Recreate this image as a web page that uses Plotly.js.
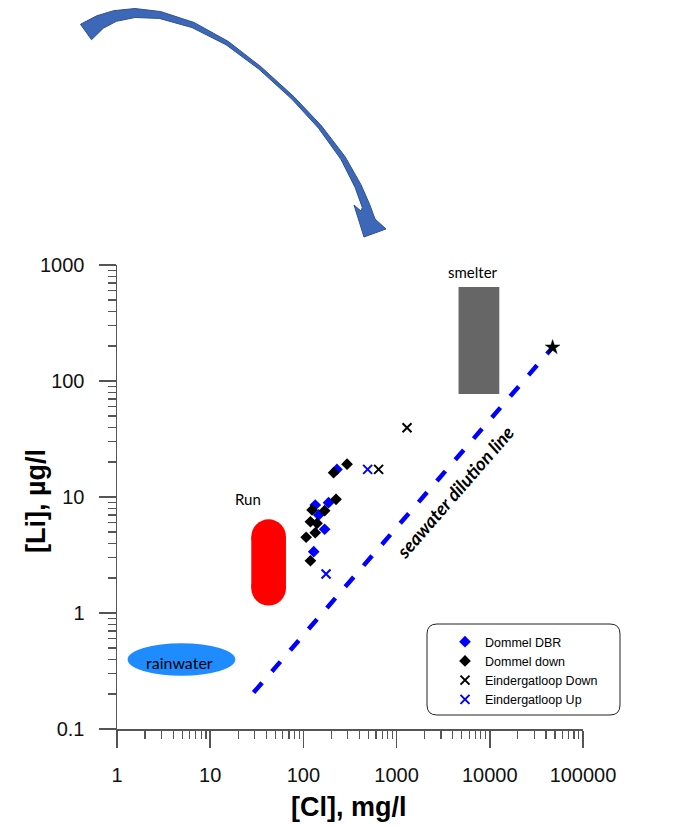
<!DOCTYPE html>
<html><head><meta charset="utf-8">
<script src="https://cdn.plot.ly/plotly-3.0.1.min.js"></script>
<style>html,body{margin:0;padding:0;background:#fff;}#chart{width:674px;height:827px;}</style>
</head><body><div id="chart"></div>
<script>
// ---- data (Cl in mg/l, Li in µg/l) ----
const dbrCl = [229, 186, 134, 146, 169, 129];
const dbrLi = [17.3, 8.93, 8.53, 7.0, 5.27, 3.38];
const downCl = [294, 211, 224, 124, 169, 119, 140, 134, 107, 119];
const downLi = [19.2, 16.2, 9.55, 7.73, 7.62, 6.12, 5.93, 4.92, 4.50, 2.82];
const eDownCl = [641, 1294];
const eDownLi = [17.3, 39.6];
const eUpCl = [489, 175];
const eUpLi = [17.3, 2.17];
const seawaterCl = [47200];
const seawaterLi = [195];
const dilutionCl = [29.2, 47200];
const dilutionLi = [0.206, 195];
const smelterCl = [4620, 12650];
const smelterLi = [77.3, 646];
const runCl = [27.6, 65];
const runLi = [1.16, 6.42];
const rainCl = [1.30, 18.6];
const rainLi = [0.288, 0.548];
const xTickVals = [1, 10, 100, 1000, 10000, 100000];
const xTickText = ['1', '10', '100', '1000', '10000', '100000'];
const yTickVals = [0.1, 1, 10, 100, 1000];
const yTickText = ['0.1', '1', '10', '100', '1000'];
const seriesNames = ['Dommel DBR', 'Dommel down', 'Eindergatloop Down', 'Eindergatloop Up'];

function minorVals(lo, hi) {
  const out = [];
  for (let e = lo; e < hi; e++) for (let m = 2; m <= 9; m++) out.push(m * Math.pow(10, e));
  return out;
}

// ---- geometry helpers for decorations (pixel -> paper) ----
const L = 117, T = 265, W = 466, H = 464;
const px = x => (x - L) / W;
const py = y => (T + H - y) / H;

// curved arrow (decoration)
const center = [[86,32],[100,22],[115,16],[135,13],[160,15],[193,25],[227,43],[260,68],[293,98],[320,127],[343,158],[358,186],[366,206]];
const thick  = [19,14,11,9,7,5.5,4,3.2,3.2,3.8,5,6.5,8];
const outer = [], inner = [];
for (let i = 0; i < center.length; i++) {
  const a = center[Math.max(0, i - 1)], b = center[Math.min(center.length - 1, i + 1)];
  let dx = b[0] - a[0], dy = b[1] - a[1];
  const len = Math.hypot(dx, dy); dx /= len; dy /= len;
  const nx = dy, ny = -dx, h = thick[i] / 2;
  outer.push([center[i][0] + nx * h, center[i][1] + ny * h]);
  inner.push([center[i][0] - nx * h, center[i][1] - ny * h]);
}
const headPts = [[375,219],[386,229],[364,237],[354,205],[361,211]];
const arrowPts = outer.concat(headPts, inner.slice().reverse());
const arrowPath = 'M' + arrowPts.map(p => px(p[0]).toFixed(5) + ',' + py(p[1]).toFixed(5)).join(' L') + ' Z';

// legend box (rounded)
function roundRect(x0, y0, x1, y1, r) {
  const P = (x, y) => px(x).toFixed(5) + ',' + py(y).toFixed(5);
  return 'M' + P(x0 + r, y0) + ' L' + P(x1 - r, y0) + ' Q' + P(x1, y0) + ' ' + P(x1, y0 + r) +
    ' L' + P(x1, y1 - r) + ' Q' + P(x1, y1) + ' ' + P(x1 - r, y1) +
    ' L' + P(x0 + r, y1) + ' Q' + P(x0, y1) + ' ' + P(x0, y1 - r) +
    ' L' + P(x0, y0 + r) + ' Q' + P(x0, y0) + ' ' + P(x0 + r, y0) + ' Z';
}

// rounded "pill" for the Run region: caps are half-circles of the pill width (in pixels)
const capPx = 17.3, decadePx = 116;
const capFactor = Math.pow(10, capPx / decadePx);
const runTopCap = [runLi[1] / capFactor / capFactor, runLi[1]];
const runBotCap = [runLi[0], runLi[0] * capFactor * capFactor];
const runBody = [runLi[0] * capFactor, runLi[1] / capFactor];

const BLUE = '#0000FF';
const traces = [
  { x: dilutionCl, y: dilutionLi, mode: 'lines', showlegend: false, hoverinfo: 'skip',
    line: { color: BLUE, width: 4.5, dash: '13px,15px' } },
  { x: dbrCl, y: dbrLi, mode: 'markers', name: seriesNames[0],
    marker: { symbol: 'diamond', size: 9, color: BLUE, line: { width: 0 } } },
  { x: downCl, y: downLi, mode: 'markers', name: seriesNames[1],
    marker: { symbol: 'diamond', size: 9, color: '#000', line: { width: 0 } } },
  { x: eDownCl, y: eDownLi, mode: 'markers', name: seriesNames[2],
    marker: { symbol: 'x-thin-open', size: 9, color: '#000', line: { width: 2, color: '#000' } } },
  { x: eUpCl, y: eUpLi, mode: 'markers', name: seriesNames[3],
    marker: { symbol: 'x-thin-open', size: 9, color: BLUE, line: { width: 2, color: BLUE } } },
  { x: seawaterCl, y: seawaterLi, mode: 'markers', showlegend: false,
    marker: { symbol: 'star', size: 11, color: '#000', line: { width: 0.5, color: '#000' } } }
];

const shapes = [
  { type: 'path', xref: 'paper', yref: 'paper', path: arrowPath, fillcolor: '#3d68b8', line: { color: '#2F528F', width: 1 }, layer: 'above' },
  { type: 'rect', xref: 'x', yref: 'y', x0: smelterCl[0], x1: smelterCl[1], y0: smelterLi[0], y1: smelterLi[1], fillcolor: '#666666', line: { width: 0 }, layer: 'below' },
  { type: 'rect', xref: 'x', yref: 'y', x0: runCl[0], x1: runCl[1], y0: runBody[0], y1: runBody[1], fillcolor: '#FF0000', line: { width: 0 }, layer: 'below' },
  { type: 'circle', xref: 'x', yref: 'y', x0: runCl[0], x1: runCl[1], y0: runTopCap[0], y1: runTopCap[1], fillcolor: '#FF0000', line: { width: 0 }, layer: 'below' },
  { type: 'circle', xref: 'x', yref: 'y', x0: runCl[0], x1: runCl[1], y0: runBotCap[0], y1: runBotCap[1], fillcolor: '#FF0000', line: { width: 0 }, layer: 'below' },
  { type: 'circle', xref: 'x', yref: 'y', x0: rainCl[0], x1: rainCl[1], y0: rainLi[0], y1: rainLi[1], fillcolor: '#1E8CFF', line: { width: 0 }, layer: 'below' },
  { type: 'path', xref: 'paper', yref: 'paper', path: roundRect(427, 624, 620, 715, 10), line: { color: '#222', width: 1 }, fillcolor: 'rgba(0,0,0,0)', layer: 'below' }
];

const calib = 'Lato, "Noto Sans", sans-serif';
const arial = '"Liberation Sans", Arial, sans-serif';
function label(text, x, y, size, family, extra) {
  return Object.assign({ text: text, x: px(x), y: py(y), xref: 'paper', yref: 'paper', showarrow: false,
    xanchor: 'center', yanchor: 'middle', font: { family: family, size: size, color: '#000' } }, extra || {});
}
const annotations = [
  label('smelter', 473, 272, 15, calib),
  label('Run', 248, 499, 15, calib),
  label('rainwater', 179, 662, 16, calib),
  label('<b><i>seawater dilution line</i></b>', 455, 492, 18.5, calib, { textangle: -49 }),
  label('<b>[Cl], mg/l</b>', 349, 807, 27, arial),
  label('<b>[Li], µg/l</b>', 36, 501, 27, arial, { textangle: -90 })
];

const axisCommon = {
  type: 'log', showgrid: false, zeroline: false, showline: true, linecolor: '#555', linewidth: 1.5,
  ticks: 'outside', ticklen: 17, tickwidth: 1.5, tickcolor: '#555', tickmode: 'array',
  tickfont: { family: arial, size: 20, color: '#111' }
};

const layout = {
  width: 674, height: 827,
  margin: { l: L, r: 674 - L - W, t: T, b: 827 - T - H },
  paper_bgcolor: '#fff', plot_bgcolor: '#fff',
  showlegend: true,
  legend: { x: px(445), y: py(627), xanchor: 'left', yanchor: 'top', bgcolor: 'rgba(0,0,0,0)', borderwidth: 0,
    font: { family: arial, size: 12.5, color: '#000' }, tracegroupgap: 0 },
  xaxis: Object.assign({}, axisCommon, { range: [0, 5], tickvals: xTickVals, ticktext: xTickText, ticklabelstandoff: 10,
    minor: { tickmode: 'array', tickvals: minorVals(0, 5), ticks: 'outside', ticklen: 8, tickwidth: 1.2, tickcolor: '#555' } }),
  yaxis: Object.assign({}, axisCommon, { range: [-1, 3], tickvals: yTickVals, ticktext: yTickText, ticklabelstandoff: 10,
    minor: { tickmode: 'array', tickvals: minorVals(-1, 3), ticks: 'outside', ticklen: 8, tickwidth: 1.2, tickcolor: '#555' } }),
  shapes: shapes,
  annotations: annotations
};

Plotly.newPlot('chart', traces, layout, { displayModeBar: false, staticPlot: true });
</script>
</body></html>
